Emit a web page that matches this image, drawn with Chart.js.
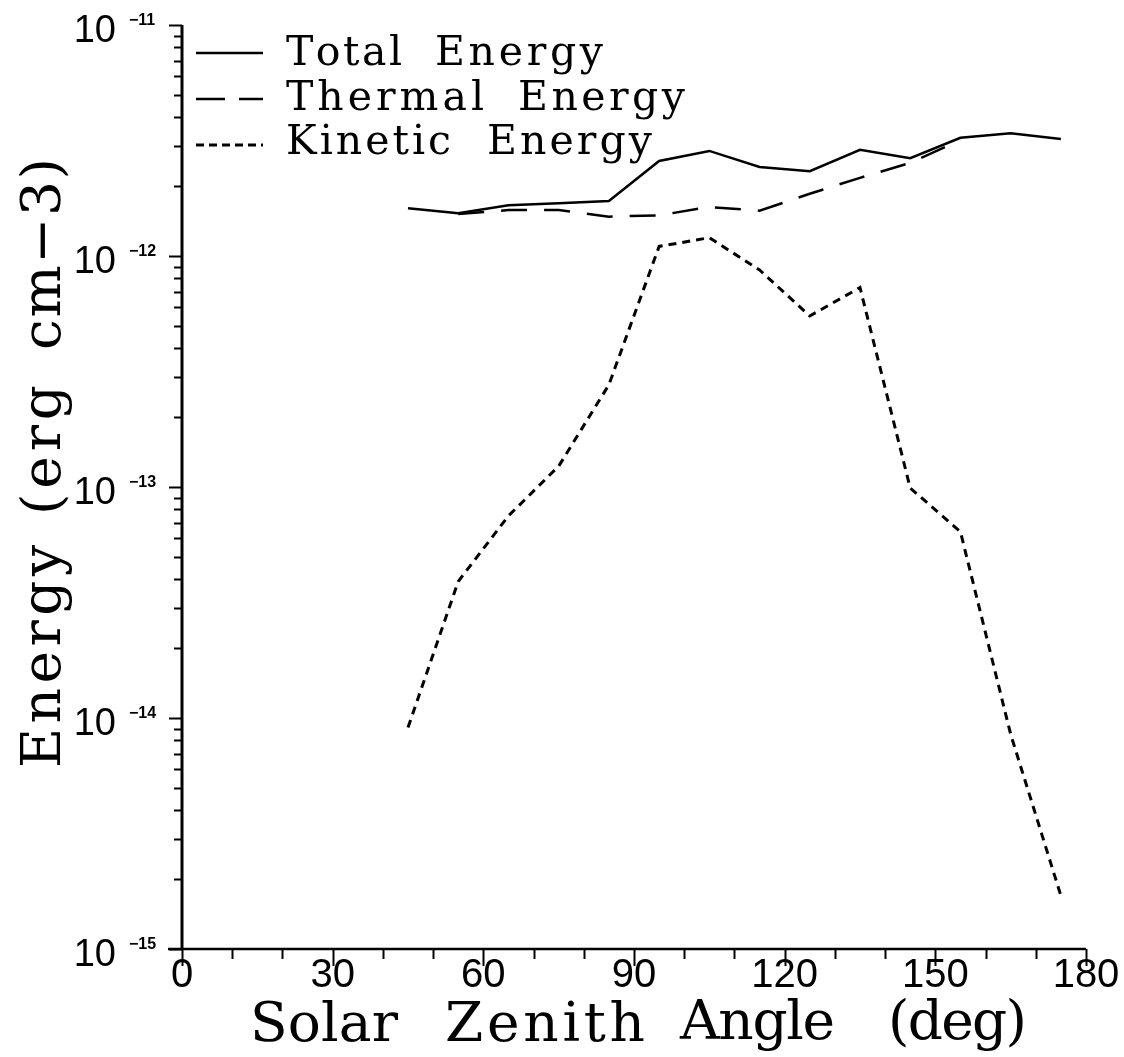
<!DOCTYPE html>
<html>
<head>
<meta charset="utf-8">
<script src="https://cdn.jsdelivr.net/npm/chart.js"></script>
<style>
  html, body { margin: 0; padding: 0; background: #fff; }
</style>
</head>
<body>
<canvas id="energyChart" width="1124" height="1057"></canvas>
<script>
// values (solar zenith angle in deg, energy in erg cm-3)
const angles = [45, 55, 65, 75, 85, 95, 105, 115, 125, 135, 145, 155, 165, 175];
const totalEnergy = [1.61e-12, 1.53e-12, 1.66e-12, 1.69e-12, 1.73e-12, 2.58e-12, 2.85e-12, 2.43e-12, 2.33e-12, 2.88e-12, 2.65e-12, 3.25e-12, 3.40e-12, 3.21e-12];
const thermalAngles = [55, 65, 75, 85, 95, 105, 115, 125, 135, 145, 155];
const thermalEnergy = [1.52e-12, 1.58e-12, 1.58e-12, 1.48e-12, 1.50e-12, 1.63e-12, 1.57e-12, 1.86e-12, 2.18e-12, 2.53e-12, 3.18e-12];
const kineticEnergy = [9.1e-15, 3.9e-14, 7.5e-14, 1.23e-13, 2.77e-13, 1.10e-12, 1.20e-12, 8.7e-13, 5.5e-13, 7.3e-13, 9.9e-14, 6.4e-14, 8.5e-15, 1.7e-15];
const xTickLabels = [0, 30, 60, 90, 120, 150, 180];
const yDecades = [-11, -12, -13, -14, -15];

const SERIF = '"DejaVu Serif", "Liberation Serif", serif';
const SANS = '"Liberation Sans", Arimo, sans-serif';

function points(xs, ys) {
  return xs.map((x, i) => ({ x: x, y: ys[i] }));
}

// plotter style lettering: each word is spread over a given width
function fitWord(c, word, x, y, width) {
  const chars = Array.from(word);
  let natural = 0;
  chars.forEach(ch => { natural += c.measureText(ch).width; });
  const gap = chars.length > 1 ? (width - natural) / (chars.length - 1) : 0;
  c.textAlign = 'left';
  let px = x;
  chars.forEach(ch => {
    c.fillText(ch, px, y);
    px += c.measureText(ch).width + gap;
  });
}

const axesPlugin = {
  id: 'plotterAxes',
  afterDraw(chart) {
    const c = chart.ctx;
    const xs = chart.scales.x;
    const ys = chart.scales.y;
    const a = chart.chartArea;
    c.save();
    c.strokeStyle = '#000';
    c.fillStyle = '#000';
    c.lineCap = 'butt';
    c.textBaseline = 'alphabetic';

    // axis lines
    c.lineWidth = 3;
    c.beginPath();
    c.moveTo(a.left, a.top);
    c.lineTo(a.left, a.bottom + 1);
    c.stroke();
    c.lineWidth = 2.5;
    c.beginPath();
    c.moveTo(a.left - 14, a.bottom);
    c.lineTo(a.right, a.bottom);
    c.stroke();

    // y ticks (log decades + minor), pointing outwards
    c.lineWidth = 2;
    for (let d = -15; d <= -11; d++) {
      for (let m = 1; m <= 9; m++) {
        if (d === -11 && m > 1) break;
        const py = Math.round(ys.getPixelForValue(m * Math.pow(10, d))) + 0.5;
        const len = m === 1 ? 13 : 8;
        c.beginPath();
        c.moveTo(a.left - len, py);
        c.lineTo(a.left, py);
        c.stroke();
      }
    }

    // y tick labels 10^-n
    yDecades.forEach(d => {
      const py = ys.getPixelForValue(Math.pow(10, d));
      c.font = '38px ' + SANS;
      c.textAlign = 'right';
      c.fillText('10', 116, py + 17);
      c.font = 'bold 16px ' + SANS;
      c.textAlign = 'left';
      c.fillText('\u2212' + (-d), 129, py);
    });

    // x ticks every 10 deg, longer at the labels
    for (let v = 0; v <= 180; v += 10) {
      const px = Math.round(xs.getPixelForValue(v)) + 0.5;
      const len = v % 30 === 0 ? 17 : 10;
      c.beginPath();
      c.moveTo(px, a.bottom);
      c.lineTo(px, a.bottom + len);
      c.stroke();
    }

    c.font = '40px ' + SANS;
    c.textAlign = 'center';
    xTickLabels.forEach(v => {
      c.fillText(String(v), xs.getPixelForValue(v), a.bottom + 38);
    });

    // axis titles
    c.font = '55px ' + SERIF;
    fitWord(c, 'Solar', 250, 1041, 148);
    fitWord(c, 'Zenith', 445, 1041, 200);
    fitWord(c, 'Angle', 680, 1039, 155);
    fitWord(c, '(deg)', 888, 1039, 139);

    c.save();
    c.translate(60, 768);
    c.rotate(-Math.PI / 2);
    fitWord(c, 'Energy', 0, 0, 223);
    fitWord(c, '(erg', 253, 0, 130);
    fitWord(c, 'cm\u22123)', 418, 0, 192);
    c.restore();

    // legend, top left inside the frame
    const rows = [
      { ds: 0, y: 53, base: 65, words: [[286, 116], [435, 168]] },
      { ds: 1, y: 99, base: 110, words: [[286, 198], [518, 167]] },
      { ds: 2, y: 145, base: 154, words: [[286, 165], [487, 165]] }
    ];
    c.font = '41px ' + SERIF;
    rows.forEach(r => {
      const ds = chart.data.datasets[r.ds];
      c.lineWidth = ds.borderWidth;
      c.setLineDash(ds.legendDash || []);
      c.beginPath();
      c.moveTo(196, r.y);
      c.lineTo(263, r.y);
      c.stroke();
      c.setLineDash([]);
      ds.label.split(' ').forEach((w, i) => {
        fitWord(c, w, r.words[i][0], r.base, r.words[i][1]);
      });
    });

    c.restore();
  }
};

new Chart(document.getElementById('energyChart'), {
  type: 'line',
  data: {
    datasets: [{
      label: 'Total Energy',
      data: points(angles, totalEnergy),
      borderColor: '#000',
      borderWidth: 2.5,
      pointRadius: 0,
      tension: 0
    }, {
      label: 'Thermal Energy',
      data: points(thermalAngles, thermalEnergy),
      borderColor: '#000',
      borderWidth: 2.5,
      borderDash: [26, 17],
      legendDash: [29, 14],
      pointRadius: 0,
      tension: 0
    }, {
      label: 'Kinetic Energy',
      data: points(angles, kineticEnergy),
      borderColor: '#000',
      borderWidth: 3,
      borderDash: [8, 6],
      legendDash: [8, 5],
      pointRadius: 0,
      tension: 0
    }]
  },
  options: {
    responsive: false,
    animation: false,
    layout: {
      padding: { left: 182, right: 38, top: 25, bottom: 108 }
    },
    scales: {
      x: { type: 'linear', min: 0, max: 180, display: false },
      y: { type: 'logarithmic', min: 1e-15, max: 1e-11, display: false }
    },
    plugins: {
      legend: { display: false },
      tooltip: { enabled: false }
    }
  },
  plugins: [axesPlugin]
});
</script>
</body>
</html>
